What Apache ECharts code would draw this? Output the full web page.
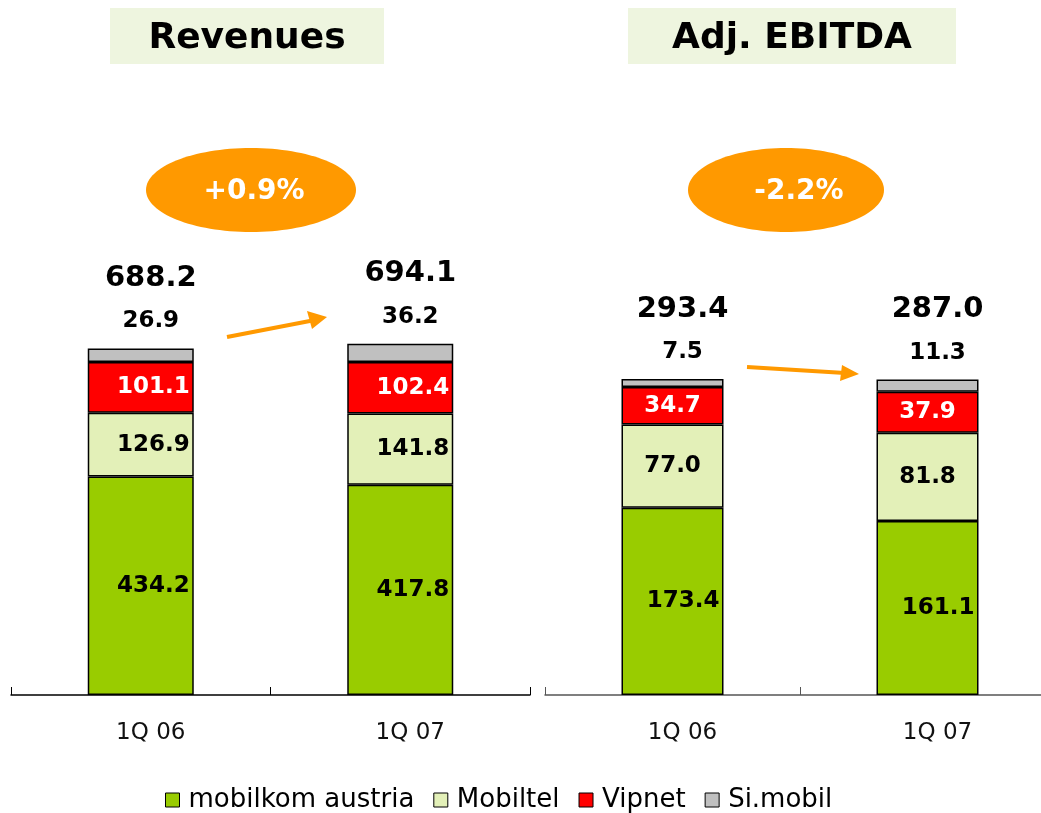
<!DOCTYPE html>
<html>
<head>
<meta charset="utf-8">
<script src="https://cdn.jsdelivr.net/npm/echarts@6/dist/echarts.min.js"></script>
<style>
  html, body { margin: 0; padding: 0; background: #fff; }
  #chart { width: 1041px; height: 813px; }
</style>
</head>
<body>
<div id="chart"></div>
<script>
// data
const categories = ['1Q 06', '1Q 07'];
const seriesNames = ['mobilkom austria', 'Mobiltel', 'Vipnet', 'Si.mobil'];

const revMobilkom = [434.2, 417.8];
const revMobiltel = [126.9, 141.8];
const revVipnet = [101.1, 102.4];
const revSimobil = [26.9, 36.2];
const revTotal = [688.2, 694.1];

const ebitdaMobilkom = [173.4, 161.1];
const ebitdaMobiltel = [77.0, 81.8];
const ebitdaVipnet = [34.7, 37.9];
const ebitdaSimobil = [7.5, 11.3];
const ebitdaTotal = [293.4, 287.0];

const panelTitles = ['Revenues', 'Adj. EBITDA'];
const growthLabels = ['+0.9%', '-2.2%'];

const colors = ['#99cc00', '#e3f0b8', '#ff0000', '#c0c0c0'];
const orange = '#ff9900';
const font = 'DejaVu Sans';

const chart = echarts.init(document.getElementById('chart'));

// one stacked bar series per company, on one grid
function makeSeries(gridIdx, values, totals, barWidth, centerLabels) {
  return values.map((vals, i) => {
    const s = {
      name: seriesNames[i],
      type: 'bar',
      stack: 'g' + gridIdx,
      xAxisIndex: gridIdx,
      yAxisIndex: gridIdx,
      barWidth: barWidth,
      data: vals,
      itemStyle: { color: colors[i], borderColor: '#000', borderWidth: 1.5 },
      emphasis: { disabled: true },
      label: {
        show: true,
        position: (i === 0 || !centerLabels) ? 'insideRight' : 'inside',
        distance: 4,
        fontFamily: font,
        fontSize: 23,
        fontWeight: 'bold',
        color: i === 2 ? '#fff' : '#000',
        formatter: p => p.value.toFixed(1)
      }
    };
    if (i === 3) {
      // Si.mobil value plus the total above the bar
      s.label = {
        show: true,
        position: 'top',
        distance: 5,
        offset: [10, 0],
        align: 'center',
        fontFamily: font,
        color: '#000',
        formatter: p => '{t|' + totals[p.dataIndex].toFixed(1) + '}\n{s|' + p.value.toFixed(1) + '}',
        rich: {
          t: { fontFamily: font, fontSize: 29, fontWeight: 'bold', lineHeight: 42, color: '#000' },
          s: { fontFamily: font, fontSize: 23, fontWeight: 'bold', lineHeight: 44, color: '#000' }
        }
      };
    }
    return s;
  });
}

function makeXAxis(gridIdx, lineColor) {
  return {
    type: 'category',
    gridIndex: gridIdx,
    data: categories,
    axisLine: { lineStyle: { color: lineColor, width: 1.5 } },
    axisTick: { show: true, inside: true, length: 8, interval: 0, lineStyle: { color: lineColor } },
    axisLabel: {
      fontFamily: font,
      fontSize: 23,
      color: '#111',
      margin: 27,
      padding: [0, 0, 0, 20]
    }
  };
}

function titleBox(x, w, text) {
  return {
    type: 'group',
    children: [
      { type: 'rect', shape: { x: x, y: 8, width: w, height: 56 }, style: { fill: '#eef5df' } },
      {
        type: 'text', x: x + w / 2, y: 39,
        style: { text: text, font: 'bold 36px "DejaVu Sans"', fill: '#000', align: 'center', verticalAlign: 'middle' }
      }
    ]
  };
}

function bubble(cx, rx, tx, text) {
  return {
    type: 'group',
    children: [
      { type: 'ellipse', shape: { cx: cx, cy: 190, rx: rx, ry: 42 }, style: { fill: orange } },
      {
        type: 'text', x: tx, y: 192,
        style: { text: text, font: 'bold 28px "DejaVu Sans"', fill: '#fff', align: 'center', verticalAlign: 'middle' }
      }
    ]
  };
}

function arrow(x1, y1, x2, y2, head) {
  return {
    type: 'group',
    children: [
      { type: 'line', shape: { x1: x1, y1: y1, x2: x2, y2: y2 }, style: { stroke: orange, lineWidth: 4 } },
      { type: 'polygon', shape: { points: head }, style: { fill: orange } }
    ]
  };
}

const option = {
  animation: false,
  backgroundColor: '#fff',
  grid: [
    { left: 11, width: 519, top: 192, bottom: 118, outerBoundsMode: 'none' },
    { left: 545, width: 510, top: 263, bottom: 118, outerBoundsMode: 'none' }
  ],
  xAxis: [makeXAxis(0, '#000'), makeXAxis(1, '#555')],
  yAxis: [
    { type: 'value', gridIndex: 0, min: 0, max: 1000, show: false },
    { type: 'value', gridIndex: 1, min: 0, max: 400, show: false }
  ],
  legend: {
    data: seriesNames,
    left: 160,
    top: 782,
    itemWidth: 14,
    itemHeight: 14,
    itemGap: 19,
    icon: 'rect',
    itemStyle: { borderColor: '#000', borderWidth: 1 },
    textStyle: { fontFamily: font, fontSize: 26, color: '#000', padding: [0, 0, 0, 4] }
  },
  graphic: [
    titleBox(110, 274, panelTitles[0]),
    titleBox(628, 328, panelTitles[1]),
    bubble(251, 105, 254, growthLabels[0]),
    bubble(786, 98, 799, growthLabels[1]),
    arrow(227, 337, 315, 320, [[307, 311], [327, 317], [312, 329]]),
    arrow(747, 367, 845, 373, [[842, 365], [859, 374], [840, 381]])
  ],
  series: [
    ...makeSeries(0, [revMobilkom, revMobiltel, revVipnet, revSimobil], revTotal, 106, false),
    ...makeSeries(1, [ebitdaMobilkom, ebitdaMobiltel, ebitdaVipnet, ebitdaSimobil], ebitdaTotal, 102, true)
  ]
};

chart.setOption(option);
</script>
</body>
</html>
